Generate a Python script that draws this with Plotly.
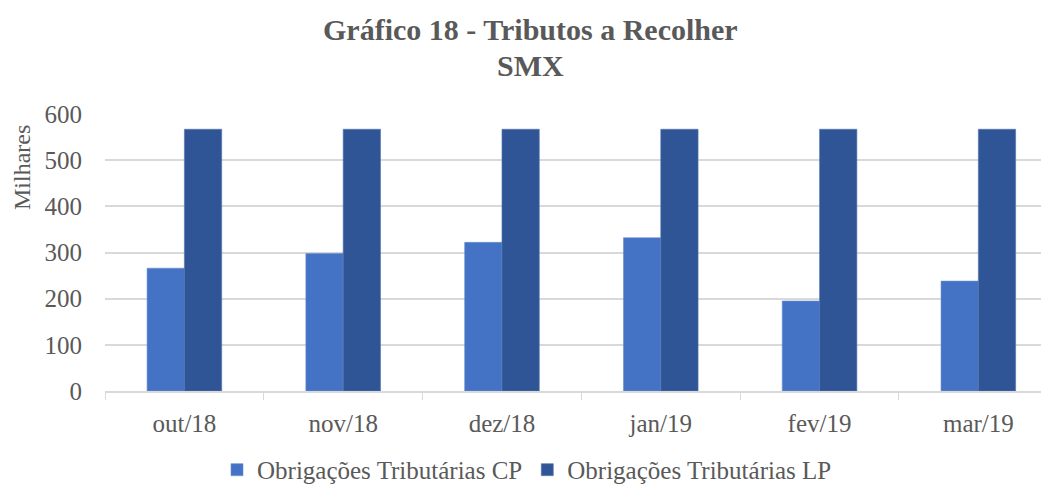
import plotly.graph_objects as go

meses = ["out/18", "nov/18", "dez/18", "jan/19", "fev/19", "mar/19"]
tributos_cp = [266, 298, 322, 332, 195, 238]
tributos_lp = [567, 567, 567, 567, 567, 567]
y_ticks = [0, 100, 200, 300, 400, 500, 600]

FONTE = "Liberation Serif"
CINZA = "#595959"

# a página tem 8px de margem no body, por isso tudo é deslocado 8px
fig = go.Figure()
fig.add_trace(go.Bar(
    x=meses, y=tributos_cp, name="Obrigações Tributárias CP",
    marker_color="#4472C4", marker_line=dict(color="#6a8fd0", width=0.6),
))
fig.add_trace(go.Bar(
    x=meses, y=tributos_lp, name="Obrigações Tributárias LP",
    marker_color="#2F5597", marker_line=dict(color="#5575ad", width=0.6),
))

fig.update_layout(
    width=1041,
    height=480,
    margin=dict(l=97, r=0, t=106, b=97, autoexpand=False),
    plot_bgcolor="white",
    paper_bgcolor="white",
    font=dict(family=FONTE, color=CINZA, size=24),
    barmode="group",
    bargap=0.53,
    bargroupgap=0,
    legend=dict(
        orientation="h", x=(527 - 105) / 944, xanchor="center",
        y=-0.285, yanchor="middle",
        font=dict(family=FONTE, size=25, color=CINZA),
        itemwidth=30, traceorder="normal",
    ),
    xaxis=dict(
        range=[-0.5, 5.445],
        automargin=False,
        showgrid=False,
        showline=True, linecolor="#d9d9d9", linewidth=1.5,
        ticks="outside", tickson="boundaries", ticklen=7, tickcolor="#d9d9d9",
        tickfont=dict(family=FONTE, size=25, color=CINZA),
        ticklabelstandoff=9,
    ),
    yaxis=dict(
        range=[0, 600],
        automargin=False,
        tickvals=y_ticks,
        showgrid=True, gridcolor="#d9d9d9", gridwidth=1.5,
        zeroline=False, showline=False,
        tickfont=dict(family=FONTE, size=25, color=CINZA),
        ticklabelstandoff=22,
    ),
    annotations=[
        dict(
            text="<b>Gráfico 18 - Tributos a Recolher</b>",
            xref="paper", yref="paper", x=(530 - 105) / 944, y=(391 - 30) / 277,
            xanchor="center", yanchor="middle", showarrow=False,
            font=dict(family=FONTE, size=30, color=CINZA),
        ),
        dict(
            text="<b>SMX</b>",
            xref="paper", yref="paper", x=(530 - 105) / 944, y=(391 - 66) / 277,
            xanchor="center", yanchor="middle", showarrow=False,
            font=dict(family=FONTE, size=30, color=CINZA),
        ),
        dict(
            text="Milhares", textangle=-90,
            xref="paper", yref="paper", x=-83 / 944, y=(391 - 168) / 277,
            xanchor="center", yanchor="middle", showarrow=False,
            font=dict(family=FONTE, size=24, color=CINZA),
        ),
    ],
)

fig.write_html("out.html")
